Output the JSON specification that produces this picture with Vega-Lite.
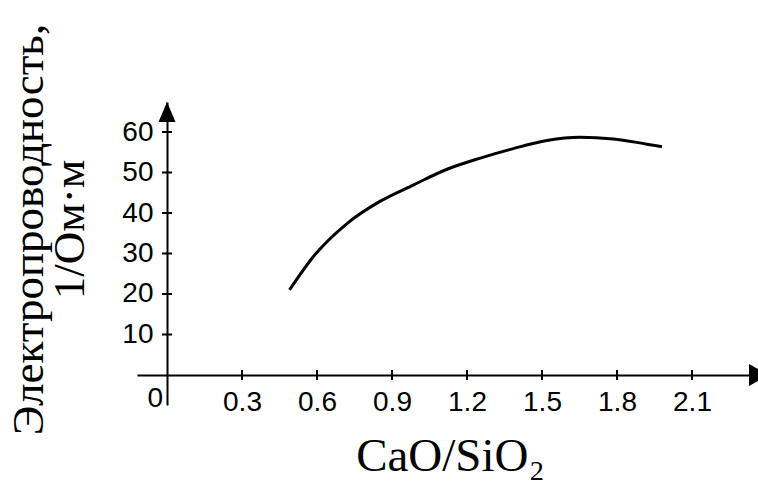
{
  "$schema": "https://vega.github.io/schema/vega-lite/v6.json",
  "width": 632,
  "height": 303,
  "autosize": "none",
  "padding": {"left": 137, "top": 102, "right": 0, "bottom": 83},
  "background": "white",
  "config": {"view": {"stroke": null}, "axis": {"grid": false}},
  "datasets": {
    "curve": [
      {"ratio": 0.49, "sigma": 21.0},
      {"ratio": 0.585, "sigma": 29.2},
      {"ratio": 0.72, "sigma": 37.4},
      {"ratio": 0.85, "sigma": 42.8},
      {"ratio": 0.985, "sigma": 46.9},
      {"ratio": 1.12, "sigma": 50.8},
      {"ratio": 1.25, "sigma": 53.5},
      {"ratio": 1.385, "sigma": 55.9},
      {"ratio": 1.52, "sigma": 57.9},
      {"ratio": 1.65, "sigma": 58.7},
      {"ratio": 1.785, "sigma": 58.3},
      {"ratio": 1.92, "sigma": 57.0},
      {"ratio": 1.98, "sigma": 56.4}
    ],
    "yticks": [{"sigma": 10}, {"sigma": 20}, {"sigma": 30}, {"sigma": 40}, {"sigma": 50}, {"sigma": 60}],
    "xticks": [{"ratio": 0.3}, {"ratio": 0.6}, {"ratio": 0.9}, {"ratio": 1.2}, {"ratio": 1.5}, {"ratio": 1.8}, {"ratio": 2.1}],
    "one": [{"k": 1}]
  },
  "layer": [
    {
      "data": {"name": "curve"},
      "mark": {"type": "line", "interpolate": "monotone", "color": "black", "strokeWidth": 3},
      "encoding": {
        "x": {
          "field": "ratio", "type": "quantitative",
          "scale": {"domain": [-0.12, 2.408], "nice": false, "zero": false},
          "axis": {
            "orient": "bottom", "offset": -30,
            "values": [0.3, 0.6, 0.9, 1.2, 1.5, 1.8, 2.1], "format": ".1f",
            "ticks": false, "tickSize": 0, "labelPadding": 13,
            "labelFont": "Liberation Sans", "labelFontSize": 28, "labelColor": "black",
            "labelBaseline": "top", "labelFlush": false, "labelOverlap": false,
            "domainColor": "black", "domainWidth": 2,
            "title": "CaO/SiO₂", "titleFont": "Liberation Serif", "titleFontSize": 47,
            "titleFontWeight": "normal", "titleColor": "black",
            "titleX": 313, "titleY": 95, "titleBaseline": "alphabetic", "titleAlign": "center"
          }
        },
        "y": {
          "field": "sigma", "type": "quantitative",
          "scale": {"domain": [-7.41, 67.41], "nice": false, "zero": false},
          "axis": {
            "orient": "left", "offset": -30,
            "values": [10, 20, 30, 40, 50, 60],
            "ticks": false, "tickSize": 0, "labelPadding": 14,
            "labelFont": "Liberation Sans", "labelFontSize": 28, "labelColor": "black",
            "labelFlush": false, "labelOverlap": false,
            "domainColor": "black", "domainWidth": 2,
            "title": ["Электропроводность,", "1/Ом·м"],
            "titleFont": "Liberation Serif", "titleFontSize": 45, "titleLineHeight": 41,
            "titleFontWeight": "normal", "titleColor": "black",
            "titleAngle": -90, "titleX": -139, "titleY": 127,
            "titleBaseline": "middle", "titleAlign": "center"
          }
        }
      }
    },
    {
      "data": {"name": "yticks"},
      "mark": {"type": "tick", "orient": "horizontal", "color": "black", "opacity": 1, "thickness": 2, "size": 10},
      "encoding": {
        "x": {"datum": 0, "type": "quantitative"},
        "y": {"field": "sigma", "type": "quantitative"}
      }
    },
    {
      "data": {"name": "xticks"},
      "mark": {"type": "tick", "orient": "vertical", "color": "black", "opacity": 1, "thickness": 2, "size": 10},
      "encoding": {
        "x": {"field": "ratio", "type": "quantitative"},
        "y": {"datum": 0, "type": "quantitative"}
      }
    },
    {
      "data": {"name": "one"},
      "mark": {"type": "point", "shape": "M0,0L0.85,2L-0.85,2Z", "filled": true, "color": "black", "opacity": 1, "size": 400},
      "encoding": {
        "x": {"datum": 0, "type": "quantitative"},
        "y": {"datum": 67.41, "type": "quantitative"}
      }
    },
    {
      "data": {"name": "one"},
      "mark": {"type": "point", "shape": "M0,0L-2,-1.1L-2,1.1Z", "filled": true, "color": "black", "opacity": 1, "size": 400},
      "encoding": {
        "x": {"datum": 2.408, "type": "quantitative"},
        "y": {"datum": 0, "type": "quantitative"}
      }
    },
    {
      "data": {"name": "one"},
      "mark": {"type": "text", "text": "0", "align": "right", "baseline": "top", "dx": -4, "dy": 10, "font": "Liberation Sans", "fontSize": 28, "color": "black"},
      "encoding": {
        "x": {"datum": 0, "type": "quantitative"},
        "y": {"datum": 0, "type": "quantitative"}
      }
    }
  ]
}
